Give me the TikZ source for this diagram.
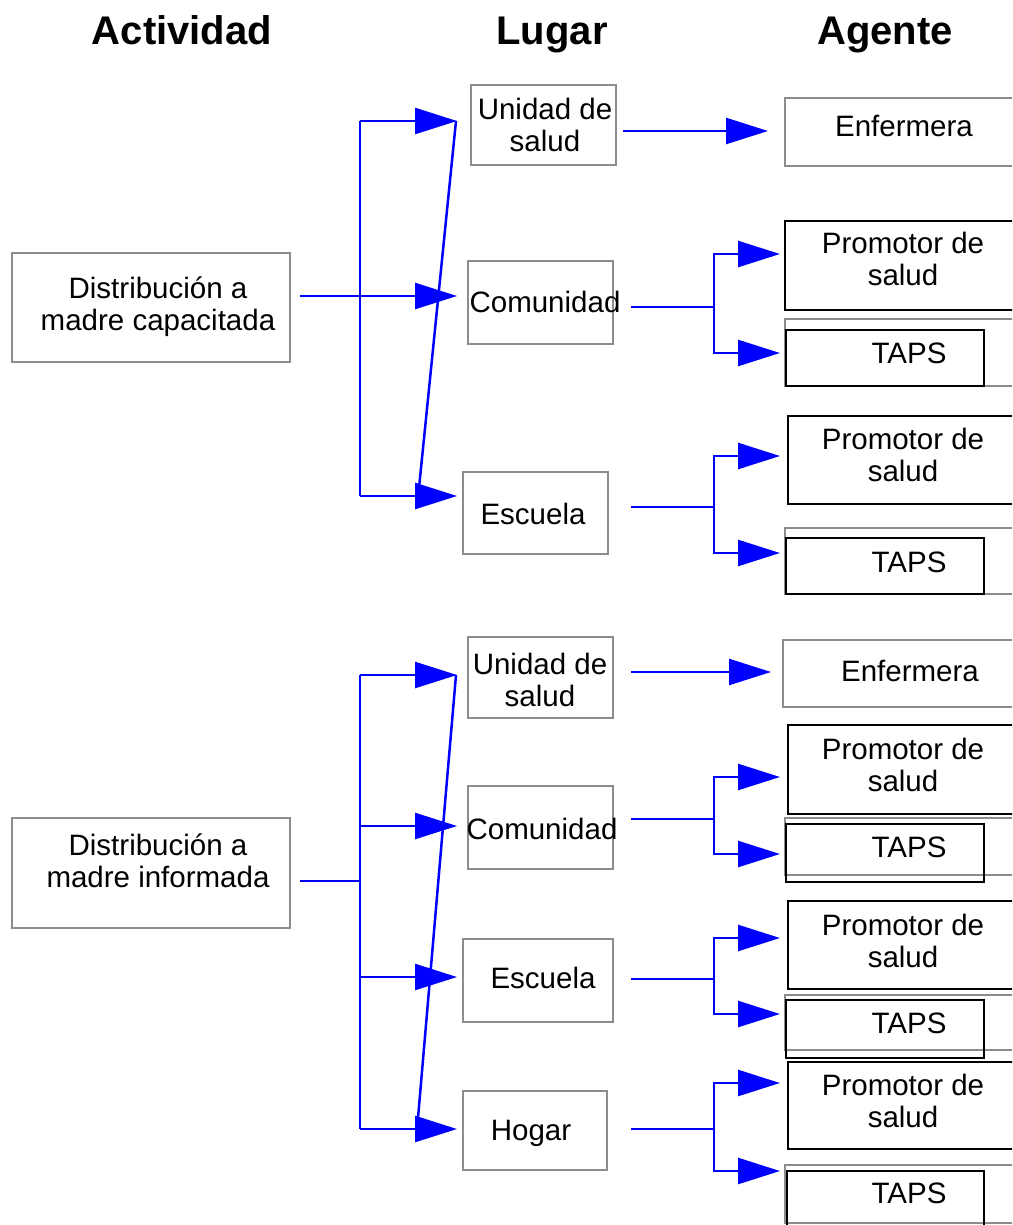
\documentclass[tikz,border=0pt]{standalone}
\usepackage{fontspec}
\setmainfont{Liberation Sans}
\usetikzlibrary{arrows.meta}
\definecolor{boxgray}{RGB}{140,140,140}
\definecolor{lineblue}{RGB}{0,0,255}
\tikzset{
  conn/.style={draw=lineblue, line width=2.5pt},
  arr/.style={conn, -{Triangle[length=42pt,width=26pt]}},
  gbox/.style={draw=boxgray, line width=2.2pt, inner sep=0pt, anchor=north west},
  kbox/.style={draw=black, line width=2.2pt, inner sep=0pt, anchor=north west},
  txt/.style={font=\fontsize{29.5}{32}\selectfont, align=center, inner sep=0pt},
  btxt/.style={txt, anchor=base},
  head/.style={font=\bfseries\fontsize{40}{44}\selectfont, inner sep=0pt, anchor=base}
}
\begin{document}
\begin{tikzpicture}[x=1pt,y=-1pt]
\clip (0,0) rectangle (1012,1225);
\fill[white] (0,0) rectangle (1012,1225);

% headers
\node[head] (hA) at (182,45) {Actividad};
\node[head] (hL) at (552,45) {Lugar};
\node[head] (hG) at (885,45) {Agente};

% activity boxes
\node[gbox, minimum width=278pt, minimum height=109pt] (a1) at (11,252) {};
\node[gbox, minimum width=278pt, minimum height=110pt] (a2) at (11,817) {};
\node[txt] (a1t) at (158,307) {Distribución a\\madre capacitada};
\node[txt] (a2t) at (158,861) {Distribución a\\madre informada};

% place boxes
\node[gbox, minimum width=145pt, minimum height=80pt] (l1) at (470,84) {};
\node[gbox, minimum width=145pt, minimum height=83pt] (l2) at (467,260) {};
\node[gbox, minimum width=145pt, minimum height=82pt] (l3) at (462,471) {};
\node[gbox, minimum width=145pt, minimum height=81pt] (l4) at (467,636) {};
\node[gbox, minimum width=145pt, minimum height=83pt] (l5) at (467,785) {};
\node[gbox, minimum width=150pt, minimum height=83pt] (l6) at (462,938) {};
\node[gbox, minimum width=144pt, minimum height=79pt] (l7) at (462,1090) {};
\node[txt] (l1t) at (545,125) {Unidad de\\salud};
\node[btxt] (l2t) at (545,312) {Comunidad};
\node[btxt] (l3t) at (533,524) {Escuela};
\node[txt] (l4t) at (540,680) {Unidad de\\salud};
\node[btxt] (l5t) at (542,839) {Comunidad};
\node[btxt] (l6t) at (543,988) {Escuela};
\node[btxt] (l7t) at (531,1140) {Hogar};

% agent boxes
\node[gbox, minimum width=250pt, minimum height=68pt] (e1) at (784,97) {};
\node[kbox, minimum width=250pt, minimum height=89pt] (p1) at (784,220) {};
\node[gbox, minimum width=250pt, minimum height=67pt] (t1o) at (784,318) {};
\node[kbox, minimum width=198pt, minimum height=56pt] (t1i) at (785,329) {};
\node[kbox, minimum width=250pt, minimum height=88pt] (p2) at (787,415) {};
\node[gbox, minimum width=250pt, minimum height=66pt] (t2o) at (784,527) {};
\node[kbox, minimum width=198pt, minimum height=56pt] (t2i) at (785,537) {};
\node[gbox, minimum width=250pt, minimum height=67pt] (e2) at (782,639) {};
\node[kbox, minimum width=250pt, minimum height=89pt] (p3) at (787,724) {};
\node[gbox, minimum width=250pt, minimum height=57pt] (t3o) at (784,817) {};
\node[kbox, minimum width=198pt, minimum height=58pt] (t3i) at (785,823) {};
\node[kbox, minimum width=250pt, minimum height=88pt] (p4) at (787,900) {};
\node[gbox, minimum width=250pt, minimum height=55pt] (t4o) at (784,994) {};
\node[kbox, minimum width=198pt, minimum height=58pt] (t4i) at (785,999) {};
\node[kbox, minimum width=250pt, minimum height=87pt] (p5) at (787,1061) {};
\node[gbox, minimum width=250pt, minimum height=58pt] (t5o) at (784,1164) {};
\node[kbox, minimum width=197pt, minimum height=70pt] (t5i) at (786,1170) {};

\node[btxt] (e1t) at (904,137) {Enfermera};
\node[txt] (p1t) at (903,259) {Promotor de\\salud};
\node[btxt] (t1t) at (909,363) {TAPS};
\node[txt] (p2t) at (903,455) {Promotor de\\salud};
\node[btxt] (t2t) at (909,572) {TAPS};
\node[btxt] (e2t) at (910,681) {Enfermera};
\node[txt] (p3t) at (903,765) {Promotor de\\salud};
\node[btxt] (t3t) at (909,857) {TAPS};
\node[txt] (p4t) at (903,941) {Promotor de\\salud};
\node[btxt] (t4t) at (909,1033) {TAPS};
\node[txt] (p5t) at (903,1101) {Promotor de\\salud};
\node[btxt] (t5t) at (909,1203) {TAPS};

% ---------- top section connectors ----------
\coordinate (s1) at (300,296);
\coordinate (v1t) at (360,121);
\coordinate (v1b) at (360,496);
\coordinate (k11) at (457,121);
\coordinate (k12) at (457,296);
\coordinate (k13) at (457,496);
\coordinate (d1a) at (456,121);
\coordinate (d1b) at (419,488);
\draw[conn] (v1t) -- (v1b);
\draw[arr] (s1) -- (k12);
\draw[arr] (v1t) -- (k11);
\draw[arr] (v1b) -- (k13);
\draw[conn] (d1a) -- (d1b);

\coordinate (o1) at (623,131);
\coordinate (i1) at (768,131);
\draw[arr] (o1) -- (i1);

\coordinate (o2) at (631,307);
\coordinate (j2) at (714,307);
\coordinate (i2a) at (780,254);
\coordinate (i2b) at (780,353);
\draw[conn] (o2) -- (j2);
\draw[arr] (j2) |- (i2a);
\draw[arr] (j2) |- (i2b);

\coordinate (o3) at (631,507);
\coordinate (j3) at (714,507);
\coordinate (i3a) at (780,456);
\coordinate (i3b) at (780,553);
\draw[conn] (o3) -- (j3);
\draw[arr] (j3) |- (i3a);
\draw[arr] (j3) |- (i3b);

% ---------- bottom section connectors ----------
\coordinate (s2) at (300,881);
\coordinate (j0) at (360,881);
\coordinate (v2t) at (360,675);
\coordinate (v2b) at (360,1129);
\coordinate (v2c) at (360,826);
\coordinate (v2d) at (360,977);
\coordinate (k21) at (457,675);
\coordinate (k22) at (457,826);
\coordinate (k23) at (457,977);
\coordinate (k24) at (457,1129);
\coordinate (d2a) at (456,675);
\coordinate (d2b) at (418,1118);
\draw[conn] (s2) -- (j0);
\draw[conn] (v2t) -- (v2b);
\draw[arr] (v2t) -- (k21);
\draw[arr] (v2c) -- (k22);
\draw[arr] (v2d) -- (k23);
\draw[arr] (v2b) -- (k24);
\draw[conn] (d2a) -- (d2b);

\coordinate (o4) at (631,672);
\coordinate (i4) at (771,672);
\draw[arr] (o4) -- (i4);

\coordinate (o5) at (631,819);
\coordinate (j5) at (714,819);
\coordinate (i5a) at (780,777);
\coordinate (i5b) at (780,854);
\draw[conn] (o5) -- (j5);
\draw[arr] (j5) |- (i5a);
\draw[arr] (j5) |- (i5b);

\coordinate (o6) at (631,979);
\coordinate (j6) at (714,979);
\coordinate (i6a) at (780,938);
\coordinate (i6b) at (780,1014);
\draw[conn] (o6) -- (j6);
\draw[arr] (j6) |- (i6a);
\draw[arr] (j6) |- (i6b);

\coordinate (o7) at (631,1129);
\coordinate (j7) at (714,1129);
\coordinate (i7a) at (780,1083);
\coordinate (i7b) at (780,1171);
\draw[conn] (o7) -- (j7);
\draw[arr] (j7) |- (i7a);
\draw[arr] (j7) |- (i7b);
\end{tikzpicture}
\end{document}
